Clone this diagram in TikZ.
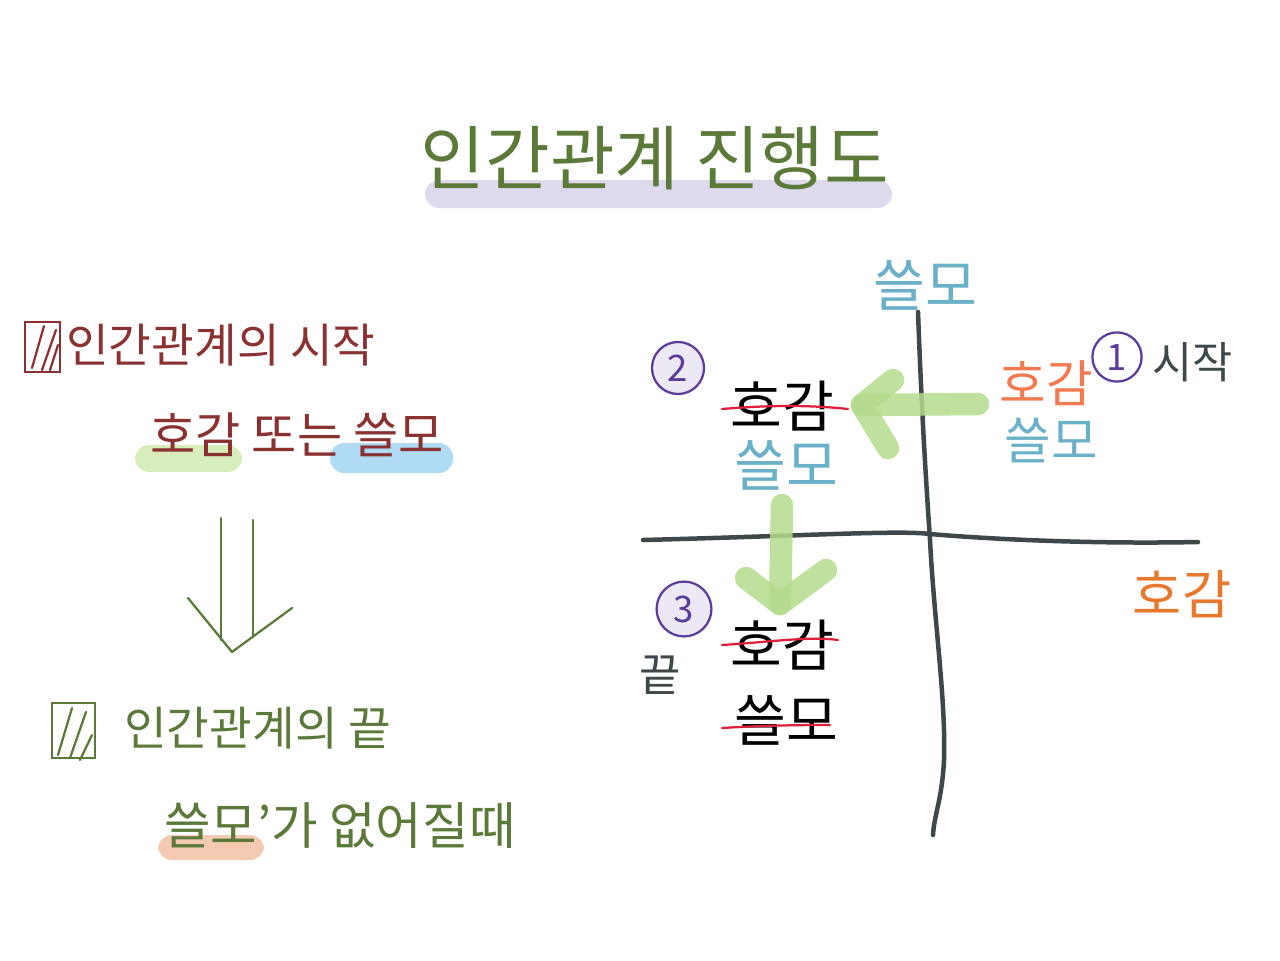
\documentclass[tikz,border=0pt]{standalone}
\usepackage{fontspec}
\setmainfont{Noto Sans CJK KR}
\usetikzlibrary{calc}
\definecolor{tgreen}{HTML}{5B7A3A}
\definecolor{dred}{HTML}{8A3232}
\definecolor{hlgreen}{HTML}{C8E6A0}
\definecolor{hlblue}{HTML}{8ECDF0}
\definecolor{hlorange}{HTML}{F2B494}
\definecolor{hlpurple}{HTML}{C9C1E0}
\definecolor{axgray}{HTML}{3E474A}
\definecolor{sblue}{HTML}{6AB0C8}
\definecolor{sorange}{HTML}{E8782E}
\definecolor{salmon}{HTML}{F37A50}
\definecolor{cpurple}{HTML}{5A3C9A}
\definecolor{lav}{HTML}{ECE8F4}
\definecolor{sred}{HTML}{E0203A}
\definecolor{agreen}{HTML}{B4DC8C}
\tikzset{
  hl/.style={rounded corners=10pt, opacity=0.7},
  lbl/.style={inner sep=0pt, anchor=center},
  axis/.style={draw=axgray, line width=3.2pt, line cap=round, line join=round},
  strike/.style={draw=sred, line width=1.6pt, line cap=round},
  bigarrow/.style={draw=agreen, line width=16pt, line cap=round, line join=round, opacity=0.85},
  numcirc/.style={circle, draw=cpurple, line width=1.6pt, fill=lav, minimum size=37pt, inner sep=0pt, text=cpurple, font=\fontsize{26}{26}\selectfont},
  chk/.style={line width=1.6pt, line cap=round},
  pen/.style={line width=1.6pt, line cap=round, line join=round}
}
\begin{document}
\begin{tikzpicture}[x=0.025cm, y=-0.025cm]
\useasboundingbox (0,0) rectangle (1280,960);
\fill[white] (0,0) rectangle (1280,960);

% ---- title ----
\fill[hlpurple, hl, opacity=0.6] (425,180) rectangle (892,208);
\node[lbl, text=tgreen, font=\fontsize{50}{50}\selectfont] (title) at (655,158) {인간관계 진행도};

% ---- left: start ----
\draw[dred, chk] (25,322) rectangle (60,372);
\draw[dred, chk] (32,368) -- (44,326) (42,370) -- (56,330) (50,370) -- (58,345);
\node[lbl, anchor=west, text=dred, font=\fontsize{33}{33}\selectfont] (start) at (66,345) {인간관계의 시작};

\fill[hlgreen, hl] (135,445) rectangle (242,472);
\fill[hlblue, hl] (330,443) rectangle (453,473);
\node[lbl, anchor=west, text=dred, font=\fontsize{35}{35}\selectfont] (or) at (150,435) {호감 또는 쓸모};

% ---- down double arrow ----
\coordinate (d1t) at (221,518);
\coordinate (d1b) at (221,640);
\coordinate (d2t) at (253,520);
\coordinate (d2b) at (253,636);
\coordinate (vl) at (188,598);
\coordinate (vm) at (232,652);
\coordinate (vr) at (292,608);
\draw[tgreen, pen] (d1t) -- (d1b);
\draw[tgreen, pen] (d2t) -- (d2b);
\draw[tgreen, pen] (vl) -- (vm) -- (vr);

% ---- left: end ----
\draw[tgreen, chk] (52,703) rectangle (95,758);
\draw[tgreen, chk] (58,755) -- (72,708) (70,758) -- (86,712) (80,760) -- (92,735);
\node[lbl, anchor=west, text=tgreen, font=\fontsize{33}{33}\selectfont] (end) at (124,728) {인간관계의 끝};

\fill[hlorange, hl] (158,835) rectangle (264,860);
\node[lbl, anchor=west, text=tgreen, font=\fontsize{36}{36}\selectfont] (lose) at (164,826) {쓸모’가 없어질때};

% ---- axes ----
\coordinate (vtop) at (918,312);
\coordinate (vmid) at (930,540);
\coordinate (vlow) at (944,760);
\coordinate (vbot) at (933,835);
\draw[axis] (vtop) .. controls (922,420) and (926,480) .. (vmid) .. controls (934,620) and (946,700) .. (vlow) .. controls (942,800) and (934,815) .. (vbot);
\coordinate (hl) at (643,540);
\coordinate (hr) at (1198,542);
\draw[axis] (hl) .. controls (800,536) and (900,530) .. (930,534) .. controls (1000,540) and (1100,544) .. (hr);

\node[lbl, text=sblue, font=\fontsize{40}{40}\selectfont] (yl) at (925,285) {쓸모};
\node[lbl, text=sorange, font=\fontsize{38}{38}\selectfont] (xl) at (1182,594) {호감};

% ---- quadrant 1 ----
\node[numcirc, fill=white, minimum size=35pt] (c1) at (1117,357) {1};
\node[lbl, anchor=west, text=axgray, font=\fontsize{31}{31}\selectfont] (s1) at (1152,362) {시작};
\node[lbl, text=salmon, font=\fontsize{36}{36}\selectfont] (q1a) at (1046,383) {호감};
\node[lbl, text=sblue, font=\fontsize{36}{36}\selectfont] (q1b) at (1051,441) {쓸모};

% ---- arrow 1 -> 2 ----
\coordinate (a1s) at (978,404);
\coordinate (a1e) at (862,405);
\coordinate (a1u) at (893,380);
\coordinate (a1d) at (888,448);
\draw[bigarrow] (a1s) -- (a1e);
\draw[bigarrow] (a1u) -- (a1e) -- (a1d);

% ---- quadrant 2 ----
\node[numcirc] (c2) at (678,368) {2};
\node[lbl, text=black, font=\fontsize{40}{40}\selectfont] (q2a) at (782,406) {호감};
\coordinate (s2l) at (722,409);
\coordinate (s2r) at (848,409);
\draw[strike] (s2l) .. controls (770,405) and (810,405) .. (s2r);
\node[lbl, text=sblue, font=\fontsize{40}{40}\selectfont] (q2b) at (786,465) {쓸모};

% ---- arrow 2 -> 3 ----
\coordinate (a2s) at (782,505);
\coordinate (a2e) at (780,604);
\coordinate (a2l) at (746,578);
\coordinate (a2r) at (826,570);
\draw[bigarrow] (a2s) -- (a2e);
\draw[bigarrow] (a2l) -- (a2e) -- (a2r);

% ---- quadrant 3 ----
\node[numcirc, minimum size=39pt] (c3) at (684,609) {3};
\node[lbl, text=axgray, font=\fontsize{32}{32}\selectfont] (endl) at (660,675) {끝};
\node[lbl, text=black, font=\fontsize{40}{40}\selectfont] (q3a) at (782,645) {호감};
\coordinate (s3l) at (722,645);
\coordinate (s3r) at (838,640);
\draw[strike] (s3l) .. controls (770,642) and (810,636) .. (s3r);
\node[lbl, text=black, font=\fontsize{40}{40}\selectfont] (q3b) at (786,720) {쓸모};
\coordinate (s4l) at (722,728);
\coordinate (s4r) at (830,725);
\draw[strike] (s4l) .. controls (770,725) and (810,725) .. (s4r);
\end{tikzpicture}
\end{document}
